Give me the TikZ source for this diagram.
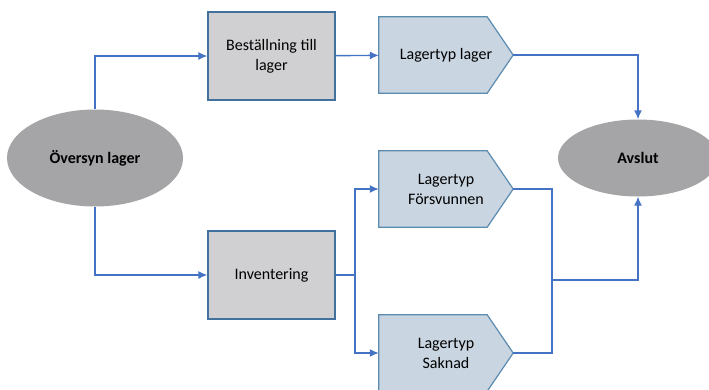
\documentclass[tikz,border=0pt]{standalone}
\usepackage{fontspec}
\setmainfont{Carlito}
\usetikzlibrary{shapes.geometric,arrows.meta,backgrounds}
\definecolor{flowblue}{HTML}{4472C4}
\definecolor{boxgray}{HTML}{D0D0D2}
\definecolor{boxedge}{HTML}{41719C}
\definecolor{typfill}{HTML}{C9D5E1}
\definecolor{typedge}{HTML}{5B8BAF}
\definecolor{endgray}{HTML}{A5A5A7}
\begin{document}
\begin{tikzpicture}[x=1pt, y=-1pt, font=\fontsize{16}{20}\selectfont,
  stepbox/.style={rectangle, draw=boxedge, fill=boxgray, line width=1.2pt, minimum width=127pt, minimum height=88pt, align=center},
  typbox/.style={rectangle, minimum width=134pt, minimum height=76pt, inner sep=0pt, align=center},
  typshape/.style={draw=typedge, fill=typfill, line width=1.2pt, line join=miter},
  endpoint/.style={ellipse, fill=endgray, inner sep=0pt, font=\fontsize{16}{20}\selectfont\bfseries},
  flow/.style={draw=flowblue, line width=1.4pt, -{Latex[length=9pt,width=8pt]}},
  link/.style={draw=flowblue, line width=1.4pt}]
\useasboundingbox (0,0) rectangle (709,389);
\node[endpoint, minimum width=176pt, minimum height=97pt] (oversyn) at (95,158) {Översyn lager};
\node[endpoint, minimum width=160pt, minimum height=77pt] (avslut) at (638,158) {Avslut};
\node[stepbox] (bestall) at (271.5,56) {Beställning till\\lager};
\node[stepbox] (invent) at (271.5,275) {Inventering};
\node[typbox] (typlager) at (446,55) {Lagertyp lager};
\node[typbox] (typforsv) at (446,189) {Lagertyp\\Försvunnen};
\node[typbox] (typsakn) at (446,353) {Lagertyp\\Saknad};
\begin{scope}[on background layer]
\foreach \t in {typlager,typforsv,typsakn}
  \draw[typshape] (\t.south west) -- (\t.north west) -- ([xshift=-26pt]\t.north east) -- (\t.east) -- ([xshift=-26pt]\t.south east) -- cycle;
\end{scope}
\coordinate (split) at (355,275);
\coordinate (join) at (552,280);
\draw[flow] (oversyn.north) |- (bestall);
\draw[flow] (oversyn.south) |- (invent);
\draw[flow] (bestall) -- (typlager);
\draw[flow] (typlager.east) -| (avslut.north);
\draw[link] (invent) -- (split);
\foreach \t in {typforsv,typsakn} \draw[flow] (split) |- (\t.west);
\foreach \t in {typforsv,typsakn} \draw[link] (\t.east) -| (join);
\draw[flow] (join) -| (avslut.south);
\end{tikzpicture}
\end{document}
